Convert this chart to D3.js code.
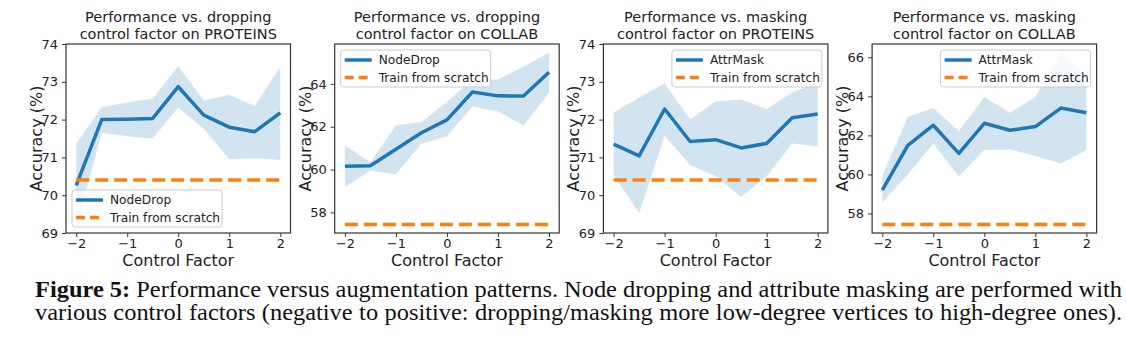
<!DOCTYPE html>
<html>
<head>
<meta charset="utf-8">
<script src="https://cdn.jsdelivr.net/npm/d3@7"></script>
<style>
  body { margin: 0; background: #fff; }
  svg text { font-family: "DejaVu Sans", sans-serif; fill: #222; }
  svg text.caption { font-family: "Liberation Serif", "Times New Roman", serif; fill: #111; }
</style>
</head>
<body>
<svg id="chart" width="1126" height="342"></svg>
<script>
// control factor on the x axis, shared by all four plots
const factors = [-2, -1.5, -1, -0.5, 0, 0.5, 1, 1.5, 2];
const xTicks = [-2, -1, 0, 1, 2];

// NodeDrop on PROTEINS
const dropProteinsMean  = [70.26, 72.0, 72.01, 72.03, 72.87, 72.12, 71.8, 71.68, 72.18];
const dropProteinsUpper = [71.36, 72.33, 72.45, 72.55, 73.42, 72.5, 72.66, 72.36, 73.4];
const dropProteinsLower = [69.16, 71.65, 71.56, 71.5, 72.32, 71.76, 70.95, 70.98, 70.93];
const dropProteinsScratch = 70.4;

// NodeDrop on COLLAB
const dropCollabMean  = [60.15, 60.18, 60.95, 61.72, 62.32, 63.62, 63.44, 63.43, 64.54];
const dropCollabUpper = [61.12, 60.34, 62.06, 62.22, 63.15, 64.2, 64.2, 64.8, 65.46];
const dropCollabLower = [59.2, 59.95, 59.78, 61.2, 61.55, 62.94, 62.71, 62.06, 63.57];
const dropCollabScratch = 57.44;

// AttrMask on PROTEINS
const maskProteinsMean  = [71.35, 71.04, 72.28, 71.42, 71.47, 71.25, 71.37, 72.05, 72.15];
const maskProteinsUpper = [72.19, 72.58, 72.96, 72.0, 72.48, 72.53, 72.28, 72.72, 72.98];
const maskProteinsLower = [70.55, 69.52, 71.57, 70.8, 70.5, 69.95, 70.5, 71.37, 71.28];
const maskProteinsScratch = 70.4;

// AttrMask on COLLAB
const maskCollabMean  = [59.2, 61.49, 62.52, 61.08, 62.62, 62.26, 62.45, 63.4, 63.16];
const maskCollabUpper = [59.93, 62.96, 63.4, 62.22, 63.96, 63.16, 63.96, 66.24, 65.1];
const maskCollabLower = [58.56, 60.0, 61.57, 59.91, 61.25, 61.28, 60.94, 60.56, 61.25];
const maskCollabScratch = 57.44;

const captionLines = [
  ["Figure 5:", " Performance versus augmentation patterns. Node dropping and attribute masking are performed with"],
  ["", "various control factors (negative to positive: dropping/masking more low-degree vertices to high-degree ones)."]
];

const panels = [
  { title: ["Performance vs. dropping", "control factor on PROTEINS"], method: "NodeDrop",
    mean: dropProteinsMean, upper: dropProteinsUpper, lower: dropProteinsLower, scratch: dropProteinsScratch,
    ylim: [69, 74], yTicks: [69, 70, 71, 72, 73, 74], legend: "lowerleft" },
  { title: ["Performance vs. dropping", "control factor on COLLAB"], method: "NodeDrop",
    mean: dropCollabMean, upper: dropCollabUpper, lower: dropCollabLower, scratch: dropCollabScratch,
    ylim: null, yTicks: [58, 60, 62, 64], legend: "upperleft" },
  { title: ["Performance vs. masking", "control factor on PROTEINS"], method: "AttrMask",
    mean: maskProteinsMean, upper: maskProteinsUpper, lower: maskProteinsLower, scratch: maskProteinsScratch,
    ylim: [69, 74], yTicks: [69, 70, 71, 72, 73, 74], legend: "upperright" },
  { title: ["Performance vs. masking", "control factor on COLLAB"], method: "AttrMask",
    mean: maskCollabMean, upper: maskCollabUpper, lower: maskCollabLower, scratch: maskCollabScratch,
    ylim: null, yTicks: [58, 60, 62, 64, 66], legend: "upperright" }
];

const blue = "#1f77b4", orange = "#ff7f0e";
const svg = d3.select("#chart");
const axW = 224.5, axTop = 44, axBottom = 233;

const fmt = v => (v < 0 ? "\u2212" : "") + Math.abs(v);

panels.forEach((p, i) => {
  const left = 66 + i * 268.7, right = left + axW;

  // auto limits with a 5% margin when none are given
  let ylim = p.ylim;
  if (!ylim) {
    const lo = d3.min(p.lower.concat([p.scratch])), hi = d3.max(p.upper.concat([p.scratch]));
    const pad = (hi - lo) * 0.05;
    ylim = [lo - pad, hi + pad];
  }
  const x = d3.scaleLinear().domain([-2.2, 2.2]).range([left, right]);
  const y = d3.scaleLinear().domain(ylim).range([axBottom, axTop]);

  const g = svg.append("g");
  const clipId = "clip" + i;
  g.append("clipPath").attr("id", clipId).append("rect")
    .attr("x", left).attr("y", axTop).attr("width", axW).attr("height", axBottom - axTop);
  const plot = g.append("g").attr("clip-path", `url(#${clipId})`);

  // shaded spread
  const area = d3.area()
    .x((d, k) => x(factors[k]))
    .y0((d, k) => y(p.lower[k]))
    .y1((d, k) => y(p.upper[k]));
  plot.append("path").datum(p.mean).attr("d", area)
    .attr("fill", blue).attr("fill-opacity", 0.2);

  // mean accuracy
  const line = d3.line().x((d, k) => x(factors[k])).y(d => y(d));
  plot.append("path").datum(p.mean).attr("d", line)
    .attr("fill", "none").attr("stroke", blue).attr("stroke-width", 3.5)
    .attr("stroke-linejoin", "round");

  // baseline without pre-training
  plot.append("line")
    .attr("x1", x(-2)).attr("x2", x(2))
    .attr("y1", y(p.scratch)).attr("y2", y(p.scratch))
    .attr("stroke", orange).attr("stroke-width", 3.5).attr("stroke-dasharray", "13,6");

  // axes
  const yAxis = g.append("g").attr("transform", `translate(${left},0)`)
    .call(d3.axisLeft(y).tickValues(p.yTicks).tickSize(4).tickPadding(4).tickFormat(fmt));
  const xAxis = g.append("g").attr("transform", `translate(0,${axBottom})`)
    .call(d3.axisBottom(x).tickValues(xTicks).tickSize(4).tickPadding(2).tickFormat(fmt));
  [yAxis, xAxis].forEach(a => {
    a.select(".domain").remove();
    a.selectAll(".tick line").attr("stroke", "#333").attr("stroke-width", 1);
    a.selectAll(".tick text").attr("font-size", 13).attr("fill", "#222")
      .attr("font-family", "DejaVu Sans, sans-serif");
  });

  g.append("rect").attr("x", left).attr("y", axTop).attr("width", axW).attr("height", axBottom - axTop)
    .attr("fill", "none").attr("stroke", "#333").attr("stroke-width", 1.2);

  // titles and labels
  p.title.forEach((t, k) => {
    g.append("text").attr("x", (left + right) / 2).attr("y", 22 + k * 17)
      .attr("text-anchor", "middle").attr("font-size", 14.5).text(t);
  });
  g.append("text").attr("x", (left + right) / 2).attr("y", 265.5)
    .attr("text-anchor", "middle").attr("font-size", 16).text("Control Factor");
  g.append("text")
    .attr("transform", `translate(${left - 24},${(axTop + axBottom) / 2}) rotate(-90)`)
    .attr("text-anchor", "middle").attr("font-size", 16).text("Accuracy (%)");

  // legend
  const lw = 150, lh = 37;
  const lx = p.legend === "upperright" ? right - 6 - lw : left + 6;
  const ly = p.legend === "lowerleft" ? axBottom - 6 - lh : axTop + 6;
  const leg = g.append("g").attr("transform", `translate(${lx},${ly})`);
  leg.append("rect").attr("width", lw).attr("height", lh).attr("rx", 3)
    .attr("fill", "#fff").attr("fill-opacity", 0.8).attr("stroke", "#ccc").attr("stroke-width", 1);
  const entries = [
    { label: p.method, color: blue, dash: null },
    { label: "Train from scratch", color: orange, dash: "9,5" }
  ];
  entries.forEach((e, k) => {
    const ey = 10 + k * 17.5;
    leg.append("line").attr("x1", 4).attr("x2", 31).attr("y1", ey).attr("y2", ey)
      .attr("stroke", e.color).attr("stroke-width", 3.5).attr("stroke-dasharray", e.dash);
    leg.append("text").attr("x", 38).attr("y", ey + 4.3).attr("font-size", 12.2).text(e.label);
  });
});

// figure caption: justified serif lines, size picked from the first line's width
const capX = 35, capWidth = 1087, capBase = [297, 320];
const capTexts = captionLines.map((parts, k) => {
  const t = svg.append("g").attr("transform", `translate(${capX},${capBase[k]}) scale(1,0.92)`)
    .append("text").attr("class", "caption").attr("font-size", 20);
  if (parts[0]) t.append("tspan").attr("font-weight", "bold").text(parts[0]);
  t.append("tspan").text(parts[1]);
  return t;
});
const capSize = 20 * capWidth / capTexts[0].node().getComputedTextLength();
capTexts.forEach((t, k) => {
  t.attr("font-size", capSize);
  const spaces = (captionLines[k].join("").match(/ /g) || []).length;
  const extra = (capWidth - t.node().getComputedTextLength()) / spaces;
  t.attr("word-spacing", extra);
});
</script>
</body>
</html>
